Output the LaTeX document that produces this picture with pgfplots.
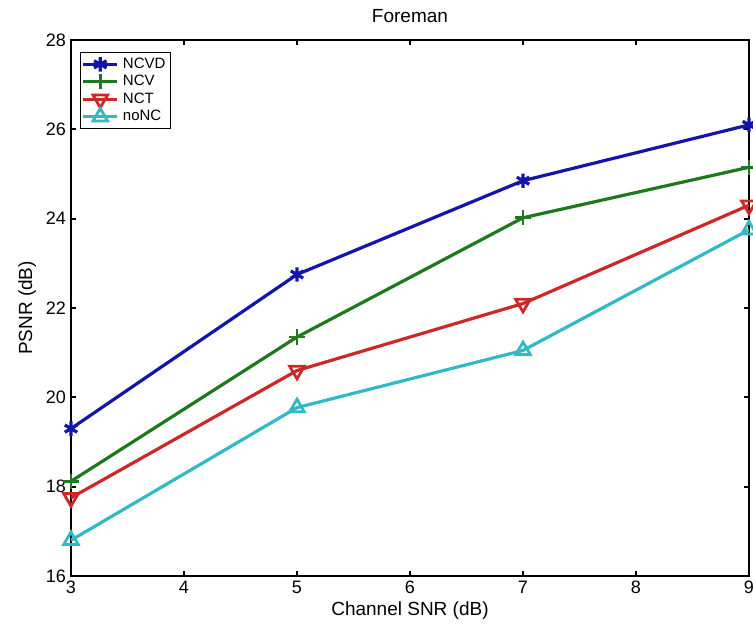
\documentclass[border=0pt]{standalone}
\usepackage{fontspec}
\setmainfont{Liberation Sans}
\usepackage{pgfplots}
\pgfplotsset{compat=1.18}
\definecolor{cNCVD}{RGB}{20,20,170}
\definecolor{cNCV}{RGB}{30,120,30}
\definecolor{cNCT}{RGB}{205,40,40}
\definecolor{cnoNC}{RGB}{50,185,195}
\begin{document}
\begin{tikzpicture}
\begin{axis}[
  scale only axis,
  width=339pt, height=268pt,
  xmin=3, xmax=9, ymin=16, ymax=28,
  xtick={3,4,5,6,7,8,9},
  ytick={16,18,20,22,24,26,28},
  tick align=inside,
  major tick length=2.5pt,
  axis line style={line width=1pt},
  tick style={line width=1pt, black},
  /pgf/number format/assume math mode=true,
  ticklabel style={font=\fontsize{9}{10}\selectfont},
  xticklabel style={yshift=1pt},
  yticklabel style={xshift=1pt},
  title={Foreman},
  title style={font=\fontsize{9.5}{10}\selectfont, yshift=-1pt},
  xlabel={Channel SNR (dB)},
  ylabel={PSNR (dB)},
  label style={font=\fontsize{9.5}{11}\selectfont},
  xlabel style={yshift=3pt},
  ylabel style={yshift=-2pt},
  legend style={at={(0.013,0.978)}, anchor=north west, font=\fontsize{7.5}{8}\selectfont,
    draw=black, line width=0.6pt, inner sep=0.6pt, row sep=-2pt},
  legend cell align=left,
  every axis plot/.append style={line width=1.6pt},
]
\addplot[color=cNCVD, mark=asterisk, mark size=3.6pt, mark options={solid, line width=1.6pt}]
  coordinates {(3,19.3) (5,22.75) (7,24.85) (9,26.1)};
\addlegendentry{NCVD}
\addplot[color=cNCV, mark=+, mark size=3.8pt, mark options={solid, line width=1.4pt}]
  coordinates {(3,18.12) (5,21.35) (7,24.02) (9,25.15)};
\addlegendentry{NCV}
\addplot[color=cNCT, mark=triangle, mark size=4.2pt, mark options={solid, rotate=180, line width=1.4pt}]
  coordinates {(3,17.75) (5,20.6) (7,22.1) (9,24.3)};
\addlegendentry{NCT}
\addplot[color=cnoNC, mark=triangle, mark size=4.2pt, mark options={solid, line width=1.4pt}]
  coordinates {(3,16.8) (5,19.77) (7,21.05) (9,23.75)};
\addlegendentry{noNC}
\coordinate (ll) at (rel axis cs:0,0);
\coordinate (ur) at (rel axis cs:1,1);
\end{axis}
\pgfresetboundingbox
\path[use as bounding box] ([xshift=-35.5pt,yshift=-26pt]ll) rectangle ([xshift=2pt,yshift=20pt]ur);
\end{tikzpicture}
\end{document}
